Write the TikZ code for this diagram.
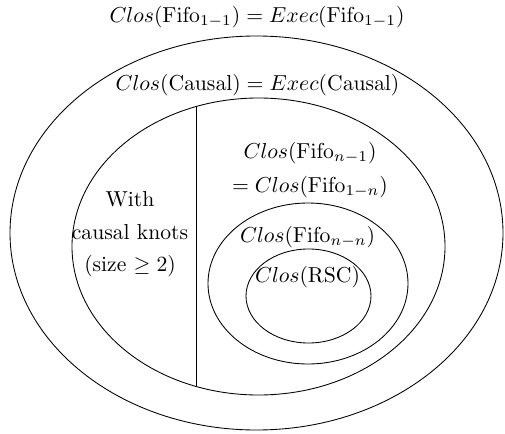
\documentclass[tikz,border=0pt]{standalone}
\begin{document}
\begin{tikzpicture}[x=0.462pt,y=-0.462pt,
  lbl/.style={inner sep=0pt,anchor=center},
  region/.style={draw,line width=0.4pt}]
\useasboundingbox (0,0) rectangle (505,434);
\draw[region] (256.5,233) ellipse [x radius=246.5,y radius=197];
\draw[region] (258.5,246.5) ellipse [x radius=186.5,y radius=148.5];
\draw[region] (308,283.5) ellipse [x radius=100,y radius=80.5];
\draw[region] (308.5,296) ellipse [x radius=62.5,y radius=47];
\coordinate (divtop) at (196,106.5);
\coordinate (divbot) at (196,385.5);
\draw[region] (divtop) -- (divbot);
\node[lbl] (fifo11) at (257,17) {$Clos(\mathrm{Fifo}_{1-1}) = Exec(\mathrm{Fifo}_{1-1})$};
\node[lbl] (causal) at (257.5,85) {$Clos(\mathrm{Causal}) = Exec(\mathrm{Causal})$};
\node[lbl] (fifon1) at (310,153) {$Clos(\mathrm{Fifo}_{n-1})$};
\node[lbl] (fifo1n) at (310,187) {$= Clos(\mathrm{Fifo}_{1-n})$};
\node[lbl] (with) at (130,199) {With};
\node[lbl] (knots) at (130,232) {causal knots};
\node[lbl] (size) at (130,266) {(size $\geq 2$)};
\node[lbl] (fifonn) at (307.5,237) {$Clos(\mathrm{Fifo}_{n-n})$};
\node[lbl] (rsc) at (307.5,277) {$Clos(\mathrm{RSC})$};
\end{tikzpicture}
\end{document}
